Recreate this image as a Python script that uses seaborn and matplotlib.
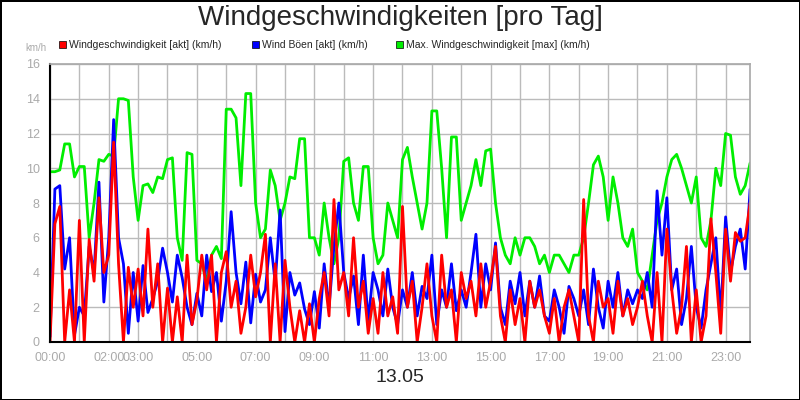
import matplotlib
matplotlib.use("Agg")
import matplotlib.pyplot as plt
import numpy as np
import seaborn as sns

sns.set_theme(style="white", font="Liberation Sans")

# hourly blocks of 10-minute values (km/h)
wind_max = [
    9.8, 9.8, 9.9, 11.4, 11.4, 9.5,
    10.1, 10.1, 6.0, 8.0, 10.5, 10.4,
    10.8, 10.7, 14.0, 14.0, 13.9, 9.5,
    7.0, 9.0, 9.1, 8.6, 9.5, 9.4,
    10.5, 10.6, 6.0, 4.7, 10.9, 10.8,
    4.7, 4.5, 3.5, 5.0, 5.5, 4.8,
    13.4, 13.4, 12.9, 9.0, 14.3, 14.3,
    8.0, 6.0, 6.5, 9.9, 9.0, 7.0,
    8.0, 9.5, 9.4, 11.7, 11.7, 6.0,
    6.0, 5.0, 8.0, 6.0, 4.5, 6.0,
    10.4, 10.6, 8.0, 7.0, 10.1, 10.1,
    6.0, 4.5, 5.0, 8.0, 7.0, 6.0,
    10.5, 11.2, 9.5, 8.0, 6.5, 8.0,
    13.3, 13.3, 10.0, 6.0, 11.8, 11.8,
    7.0, 8.0, 9.0, 10.5, 9.0, 11.0,
    11.1, 8.0, 6.0, 5.0, 4.5, 6.0,
    5.0, 6.0, 6.0, 5.5, 4.5, 5.0,
    4.0, 5.0, 5.0, 4.5, 4.0, 5.0,
    5.0, 6.0, 8.0, 10.2, 10.7, 9.5,
    7.0, 9.5, 8.0, 6.0, 5.5, 6.5,
    4.0, 3.5, 3.0, 5.0, 7.0, 8.0,
    9.5, 10.5, 10.8, 10.0, 9.0, 8.0,
    9.5, 6.0, 5.5, 7.0, 10.0, 9.0,
    12.0, 11.9, 9.5, 8.5, 9.0, 10.3,
]
wind_gust = [
    0.3, 8.8, 9.0, 4.2, 6.0, 0.4,
    2.0, 1.5, 5.5, 4.0, 9.2, 2.3,
    6.0, 12.8, 6.0, 4.5, 0.5, 4.0,
    1.2, 4.4, 1.7, 2.5, 3.5, 5.4,
    4.0, 2.3, 5.0, 3.7, 2.0, 1.0,
    2.8, 1.5, 5.0, 2.9, 4.0, 1.2,
    3.5, 7.5, 4.0, 2.2, 4.6, 1.1,
    3.9, 2.3, 3.0, 6.0, 3.4, 7.6,
    0.6, 4.0, 2.7, 3.4, 1.9, 1.0,
    2.9, 0.8, 4.5, 2.0, 5.5, 8.0,
    4.0, 2.5, 3.8, 1.0, 5.0, 1.2,
    4.0, 3.0, 1.5, 4.2, 2.0, 1.0,
    3.0, 2.0, 4.0, 1.5, 3.2, 2.5,
    5.0, 1.0, 3.0, 2.0, 4.5, 1.8,
    3.0, 2.0, 4.0, 6.2, 2.0, 4.5,
    3.0, 5.7, 2.0, 1.0, 3.5, 2.2,
    4.0, 1.5, 3.5, 2.0, 3.8, 1.5,
    1.2, 3.0, 2.0, 0.5, 3.2, 2.5,
    1.5, 3.0, 1.0, 4.2, 2.0, 0.8,
    3.5, 2.0, 4.0, 1.5, 3.0, 2.2,
    3.0, 2.5, 4.0, 2.0, 8.7, 5.0,
    8.3, 3.0, 4.2, 1.0, 2.5, 5.5,
    2.0, 0.8, 3.0, 4.5, 6.0, 1.5,
    7.2, 4.0, 5.5, 6.5, 4.2, 8.8,
]
wind_speed = [
    0.0, 6.8, 7.8, 0.0, 3.0, 0.0,
    7.0, 0.0, 5.9, 3.5, 8.3, 4.0,
    5.0, 11.5, 4.5, 0.0, 4.3, 2.0,
    4.2, 1.5, 6.5, 2.0, 4.5, 0.0,
    3.1, 0.0, 2.6, 0.0, 5.0, 1.0,
    2.4, 5.0, 3.0, 5.0, 0.0, 4.0,
    5.2, 2.0, 3.5, 0.5, 2.0, 5.0,
    2.6, 4.0, 6.2, 0.0, 4.5, 0.0,
    4.7, 2.0, 0.0, 1.8, 0.0, 2.2,
    0.0, 2.5, 4.0, 1.5, 8.2, 3.0,
    4.0, 1.5, 6.0, 2.0, 3.5, 0.5,
    2.5, 0.5, 4.0, 1.5, 2.6, 0.5,
    7.8, 2.0, 3.5, 0.0, 2.0, 4.5,
    1.5, 0.0, 5.0, 2.0, 3.0, 0.0,
    4.0, 2.5, 3.5, 1.5, 4.5, 2.0,
    3.5, 5.5, 1.5, 0.0, 3.0, 1.0,
    2.5, 0.0, 3.5, 2.0, 3.0, 1.5,
    0.5, 2.5, 0.0, 2.0, 3.0, 1.5,
    0.0, 8.2, 1.5, 0.0, 3.5, 2.0,
    2.5, 0.5, 3.5, 1.5, 2.5, 1.0,
    2.0, 3.5, 1.5, 0.0, 4.0, 0.0,
    6.5, 3.0, 0.5, 2.0, 5.5, 0.0,
    3.0, 0.0, 1.5, 7.1, 4.0, 0.5,
    6.5, 3.5, 6.3, 5.8, 6.0, 8.0,
]
tick_hours = [0, 2, 3, 5, 7, 9, 11, 13, 15, 17, 19, 21, 23]
tick_labels = ["00:00", "02:00", "03:00", "05:00", "07:00", "09:00", "11:00",
               "13:00", "15:00", "17:00", "19:00", "21:00", "23:00"]

hours = np.arange(len(wind_max)) / 6.0

fig = plt.figure(figsize=(8, 4), dpi=100)
fig.patch.set_edgecolor("black")
fig.patch.set_linewidth(2)
ax = fig.add_axes([50 / 800, 58 / 400, 700 / 800, 278 / 400])

sns.lineplot(x=hours, y=wind_max, ax=ax, color="#00ee00", lw=2, label="Max. Windgeschwindigkeit [max] (km/h)")
sns.lineplot(x=hours, y=wind_gust, ax=ax, color="#0000ff", lw=2, label="Wind Böen [akt] (km/h)")
sns.lineplot(x=hours, y=wind_speed, ax=ax, color="#ff0000", lw=2, label="Windgeschwindigkeit [akt] (km/h)")
ax.get_legend().remove()

ax.set_xlim(0, 23.83)
ax.set_ylim(0, 16)
ax.set_xticks(tick_hours, tick_labels)
ax.set_xticks(np.arange(0, 24), minor=True)
ax.set_yticks(np.arange(0, 17, 2))
ax.grid(True, which="both", color="#bbbbbb", lw=1)
ax.tick_params(axis="both", colors="#aaaaaa", labelsize=9, length=4, which="both", direction="out")
for s in ["top", "right"]:
    ax.spines[s].set_color("#aaaaaa")
for s in ["left", "bottom"]:
    ax.spines[s].set_color("black")
    ax.spines[s].set_linewidth(1.5)

fig.text(0.5, 0.955, "Windgeschwindigkeiten [pro Tag]", ha="center", va="center", fontsize=20)
fig.text(0.5, 0.055, "13.05", ha="center", va="center", fontsize=14)
fig.text(25 / 800, 1 - 48 / 400, "km/h", ha="left", va="center", fontsize=7, color="#aaaaaa")

legend = [("#ff0000", "Windgeschwindigkeit [akt] (km/h)", 59),
          ("#0000ff", "Wind Böen [akt] (km/h)", 252),
          ("#00ee00", "Max. Windgeschwindigkeit [max] (km/h)", 396)]
for col, txt, px in legend:
    fig.patches.append(plt.Rectangle((px / 800, 1 - 48 / 400), 7 / 800, 7 / 400,
                                     transform=fig.transFigure, facecolor=col, edgecolor="black", lw=0.5))
    fig.text((px + 10) / 800, 1 - 44.5 / 400, txt, ha="left", va="center", fontsize=7.5)

fig.savefig("out.png", dpi=100, edgecolor=fig.get_edgecolor())
